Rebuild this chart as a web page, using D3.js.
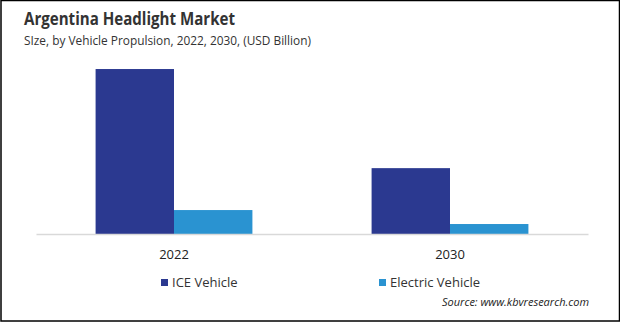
<!DOCTYPE html>
<html>
<head>
<meta charset="utf-8">
<script src="https://cdn.jsdelivr.net/npm/d3@7"></script>
<style>
  body { margin: 0; background: #fff; }
  svg { display: block; font-family: "Open Sans", "Noto Sans", sans-serif; }
</style>
</head>
<body>
<div id="graf"></div>
<script>
// data
const years = ["2022", "2030"];
const series = ["ICE Vehicle", "Electric Vehicle"];
const iceValues = [0.248, 0.099];
const electricValues = [0.036, 0.015];

const colores = { "ICE Vehicle": "#2b3990", "Electric Vehicle": "#2a93d1" };

const ancho_total = 620;
const alto_total = 322;

const svg = d3.select("#graf")
  .append("svg")
  .attr("width", ancho_total)
  .attr("height", alto_total);

// frame
svg.append("rect")
  .attr("x", 1).attr("y", 0.5)
  .attr("width", ancho_total - 1.5).attr("height", alto_total - 1.5)
  .attr("fill", "#fff").attr("stroke", "#000").attr("stroke-width", 1.5);

svg.append("text")
  .attr("x", 24).attr("y", 25)
  .attr("font-size", "17px").attr("font-weight", "bold").attr("fill", "#333")
  .attr("textLength", 211).attr("lengthAdjust", "spacingAndGlyphs")
  .text("Argentina Headlight Market");

svg.append("text")
  .attr("x", 24).attr("y", 45)
  .attr("font-size", "13px").attr("fill", "#333")
  .attr("textLength", 287).attr("lengthAdjust", "spacingAndGlyphs")
  .text("SIze, by Vehicle Propulsion, 2022, 2030, (USD Billion)");

const rows = years.map((y, i) => ({
  year: y,
  vals: [
    { key: series[0], value: iceValues[i] },
    { key: series[1], value: electricValues[i] },
  ],
}));

const x0 = d3.scaleBand().domain(years).range([36, 588]);
const x1 = d3.scaleBand().domain(series).range([0, x0.bandwidth()]).paddingOuter(0.76);
const y = d3.scaleLinear().domain([0, 0.25]).range([234, 67.7]);

const grupos = svg.selectAll(".grupo")
  .data(rows)
  .enter()
  .append("g")
  .attr("class", "grupo")
  .attr("transform", (d) => `translate(${x0(d.year)},0)`);

grupos.selectAll("rect")
  .data((d) => d.vals)
  .enter()
  .append("rect")
  .attr("x", (d) => x1(d.key))
  .attr("y", (d) => y(d.value))
  .attr("width", x1.bandwidth())
  .attr("height", (d) => y(0) - y(d.value))
  .attr("fill", (d) => colores[d.key]);

// axis
const eje = svg.append("g")
  .attr("transform", `translate(0,${y(0)})`)
  .call(d3.axisBottom(x0).tickSize(0).tickPadding(16));
eje.select(".domain").attr("stroke", "#d9d9d9").attr("stroke-width", 1.5);
eje.selectAll("text").attr("font-size", "13px").attr("fill", "#222")
  .attr("font-family", "Open Sans, sans-serif");

// legend
const leyendaX = d3.scaleOrdinal().domain(series).range([161, 379]);
const leyenda = svg.selectAll(".leyenda")
  .data(series)
  .enter()
  .append("g")
  .attr("class", "leyenda")
  .attr("transform", (d) => `translate(${leyendaX(d)},279)`);
leyenda.append("rect")
  .attr("width", 7).attr("height", 7)
  .attr("fill", (d) => colores[d]);
leyenda.append("text")
  .attr("x", 11).attr("y", 7.5)
  .attr("font-size", "13px").attr("fill", "#333")
  .text((d) => d);

svg.append("text")
  .attr("x", 589).attr("y", 306)
  .attr("text-anchor", "end")
  .attr("font-size", "11.5px").attr("font-style", "italic").attr("fill", "#222")
  .attr("textLength", 147).attr("lengthAdjust", "spacingAndGlyphs")
  .text("Source: www.kbvresearch.com");
</script>
</body>
</html>
